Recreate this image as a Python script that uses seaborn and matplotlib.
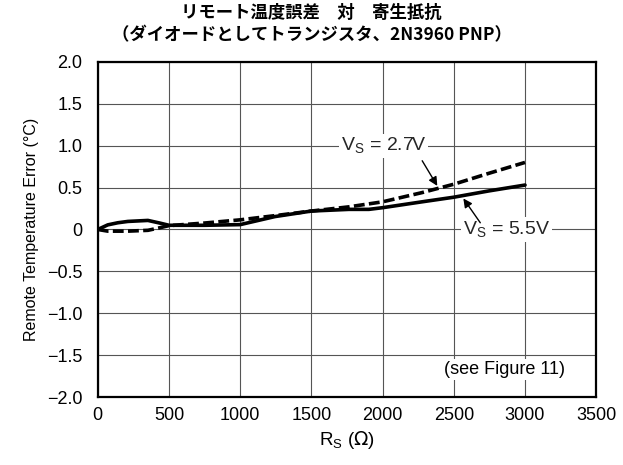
import matplotlib
matplotlib.use("Agg")
import matplotlib.pyplot as plt
import seaborn as sns
import pandas as pd

# Data
rs_55 = [0, 70, 140, 211, 352, 434, 500, 751, 1000, 1244, 1500, 1763, 1904, 2000, 2277, 2500, 2746, 3000]
err_55 = [0.0, 0.055, 0.08, 0.096, 0.108, 0.077, 0.05, 0.05, 0.058, 0.154, 0.22, 0.24, 0.24, 0.26, 0.33, 0.385, 0.46, 0.53]
rs_27 = [0, 70, 211, 352, 434, 500, 751, 1000, 1244, 1500, 1763, 2000, 2277, 2500, 2746, 3000]
err_27 = [0.0, -0.02, -0.02, -0.01, 0.02, 0.046, 0.077, 0.115, 0.165, 0.22, 0.27, 0.33, 0.44, 0.54, 0.67, 0.80]

x_ticks = [0, 500, 1000, 1500, 2000, 2500, 3000, 3500]
y_ticks = [-2.0, -1.5, -1.0, -0.5, 0, 0.5, 1.0, 1.5, 2.0]
y_tick_labels = ["\u22122.0", "\u22121.5", "\u22121.0", "\u22120.5", "0", "0.5", "1.0", "1.5", "2.0"]
title = "リモート温度誤差　対　寄生抵抗\n（ダイオードとしてトランジスタ、2N3960 PNP）"

sns.set_theme(style="white")
plt.rcParams['font.family'] = ['Liberation Sans', 'Noto Sans CJK JP', 'DejaVu Sans']

df55 = pd.DataFrame({"Rs": rs_55, "Err": err_55})
df27 = pd.DataFrame({"Rs": rs_27, "Err": err_27})

fig = plt.figure(figsize=(6.23, 4.65), dpi=100)
ax = fig.add_axes([0.157, 0.146, 0.800, 0.721])

sns.lineplot(data=df55, x="Rs", y="Err", ax=ax, color="black", linewidth=2.6, zorder=3)
sns.lineplot(data=df27, x="Rs", y="Err", ax=ax, color="black", linewidth=2.6,
             linestyle=(0, (3.0, 1.2)), zorder=3)

ax.set_xlim(0, 3500)
ax.set_ylim(-2.0, 2.0)
ax.set_xticks(x_ticks)
ax.set_xticklabels([str(v) for v in x_ticks])
ax.set_yticks(y_ticks)
ax.set_yticklabels(y_tick_labels)
ax.tick_params(axis="both", length=0, labelsize=13, colors="black")
ax.tick_params(axis="x", pad=7)
ax.tick_params(axis="y", pad=11)
ax.grid(True, color="#555555", linewidth=0.8)
for s in ax.spines.values():
    s.set_color("black")
    s.set_linewidth(1.6)

ax.set_xlabel(r"R$_\mathregular{S}$ ($\Omega$)", fontsize=13.5, color="black", labelpad=4)
ax.set_ylabel("Remote Temperature Error (°C)", fontsize=11.5, color="black", labelpad=6)
fig.suptitle(title, x=0.5, y=0.992, va="top", fontsize=12.5, fontweight="bold",
             color="black", family=['Noto Sans CJK JP', 'Liberation Sans'], linespacing=1.35)

bbox = dict(boxstyle="square,pad=0.1", fc="white", ec="none")
arrow = dict(arrowstyle="-|>", color="black", lw=1.0, shrinkA=0, shrinkB=0, mutation_scale=13)

ax.text(2004, 1.0, r"V$_\mathregular{S}$ = 2.7V", ha="center", va="center", fontsize=14,
        bbox=bbox, zorder=5)
ax.annotate("", xy=(2384, 0.52), xytext=(2278, 0.82), arrowprops=arrow, zorder=6)

ax.text(2870, 0.0, r"V$_\mathregular{S}$ = 5.5V", ha="center", va="center", fontsize=14,
        bbox=bbox, zorder=5)
ax.annotate("", xy=(2567, 0.37), xytext=(2686, 0.08), arrowprops=arrow, zorder=6)

ax.text(2855, -1.67, "(see Figure 11)", ha="center", va="center", fontsize=13,
        color="black", bbox=bbox, zorder=5)

fig.savefig("out.png", dpi=100)
